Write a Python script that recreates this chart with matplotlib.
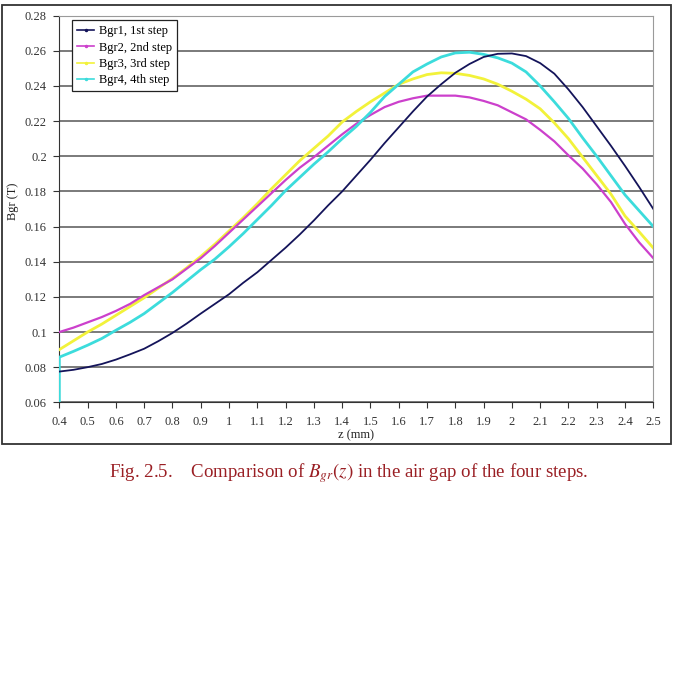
import matplotlib.pyplot as plt
from matplotlib.lines import Line2D
from matplotlib.patches import Rectangle

#### -------- データ -------- ####
z = [0.40, 0.45, 0.50, 0.55, 0.60, 0.65, 0.70, 0.75, 0.80, 0.85, 0.90,
     0.95, 1.00, 1.05, 1.10, 1.15, 1.20, 1.25, 1.30, 1.35, 1.40, 1.45,
     1.50, 1.55, 1.60, 1.65, 1.70, 1.75, 1.80, 1.85, 1.90, 1.95, 2.00,
     2.05, 2.10, 2.15, 2.20, 2.25, 2.30, 2.35, 2.40, 2.45, 2.50]

bgr1 = [0.0775, 0.0785, 0.0800, 0.0818, 0.0843, 0.0873, 0.0905, 0.0948,
        0.0995, 0.1048, 0.1105, 0.1160, 0.1215, 0.1280, 0.1340, 0.1410,
        0.1480, 0.1555, 0.1635, 0.1720, 0.1800, 0.1890, 0.1980, 0.2075,
        0.2165, 0.2255, 0.2340, 0.2410, 0.2475, 0.2525, 0.2565, 0.2583,
        0.2585, 0.2570, 0.2530, 0.2470, 0.2380, 0.2280, 0.2170, 0.2060,
        0.1945, 0.1825, 0.1700]

bgr2 = [0.1000, 0.1025, 0.1055, 0.1085, 0.1120, 0.1160, 0.1210, 0.1255,
        0.1300, 0.1360, 0.1420, 0.1490, 0.1565, 0.1640, 0.1715, 0.1790,
        0.1865, 0.1935, 0.1995, 0.2060, 0.2125, 0.2185, 0.2235, 0.2280,
        0.2310, 0.2330, 0.2345, 0.2345, 0.2345, 0.2335, 0.2315, 0.2290,
        0.2250, 0.2210, 0.2150, 0.2085, 0.2005, 0.1930, 0.1840, 0.1740,
        0.1615, 0.1510, 0.1420]

bgr3 = [0.0900, 0.0950, 0.1000, 0.1045, 0.1095, 0.1145, 0.1195, 0.1250,
        0.1305, 0.1365, 0.1430, 0.1500, 0.1575, 0.1650, 0.1730, 0.1815,
        0.1895, 0.1975, 0.2045, 0.2115, 0.2195, 0.2255, 0.2310, 0.2360,
        0.2410, 0.2440, 0.2465, 0.2475, 0.2472, 0.2460, 0.2440, 0.2410,
        0.2370, 0.2325, 0.2270, 0.2190, 0.2100, 0.1995, 0.1890, 0.1785,
        0.1660, 0.1570, 0.1478]

# 4th step は z=0.4 で 0 から立ち上がる
z4 = [0.40] + z
bgr4 = [0.0,
        0.0857, 0.0890, 0.0925, 0.0963, 0.1010, 0.1055, 0.1105, 0.1165,
        0.1225, 0.1290, 0.1355, 0.1415, 0.1485, 0.1560, 0.1640, 0.1720,
        0.1805, 0.1880, 0.1955, 0.2025, 0.2100, 0.2170, 0.2250, 0.2340,
        0.2410, 0.2480, 0.2525, 0.2565, 0.2588, 0.2592, 0.2580, 0.2560,
        0.2530, 0.2480, 0.2400, 0.2310, 0.2215, 0.2105, 0.2000, 0.1890,
        0.1780, 0.1690, 0.1600]

labels = ["Bgr1, 1st step", "Bgr2, 2nd step", "Bgr3, 3rd step", "Bgr4, 4th step"]
colors = ["#14145a", "#cc40cc", "#f2f23a", "#3cdcdc"]
widths = [1.3, 1.6, 2.0, 2.0]

x_ticks = [0.4, 0.5, 0.6, 0.7, 0.8, 0.9, 1, 1.1, 1.2, 1.3, 1.4, 1.5,
           1.6, 1.7, 1.8, 1.9, 2, 2.1, 2.2, 2.3, 2.4, 2.5]
x_ticklabels = ["0.4", "0.5", "0.6", "0.7", "0.8", "0.9", "1", "1.1", "1.2",
                "1.3", "1.4", "1.5", "1.6", "1.7", "1.8", "1.9", "2", "2.1",
                "2.2", "2.3", "2.4", "2.5"]
y_ticks = [0.06, 0.08, 0.10, 0.12, 0.14, 0.16, 0.18, 0.20, 0.22, 0.24, 0.26, 0.28]
y_ticklabels = ["0.06", "0.08", "0.1", "0.12", "0.14", "0.16", "0.18", "0.2",
                "0.22", "0.24", "0.26", "0.28"]

#### -------- グラフ設定 -------- ####
plt.rcParams["font.family"] = ["Liberation Serif", "DejaVu Serif"]
plt.rcParams["mathtext.fontset"] = "stix"
plt.rcParams["font.size"] = 9
plt.rcParams["xtick.direction"] = "out"
plt.rcParams["ytick.direction"] = "out"

fig = plt.figure(figsize=(6.75, 6.73), dpi=100)
ax = fig.add_axes([0.0879, 0.4022, 0.8800, 0.5745])

# 外枠
fig.patches.append(Rectangle((0.003, 0.340), 0.991, 0.652, transform=fig.transFigure,
                             fill=False, edgecolor="#333333", lw=1.3))

#### -------- データをプロット -------- ####
ax.plot(z, bgr1, color=colors[0], lw=widths[0], zorder=5)
ax.plot(z, bgr2, color=colors[1], lw=widths[1], zorder=4)
ax.plot(z, bgr3, color=colors[2], lw=widths[2], zorder=3)
ax.plot(z4, bgr4, color=colors[3], lw=widths[3], zorder=4)

ax.set_xlim(0.4, 2.5)
ax.set_ylim(0.06, 0.28)
ax.set_xticks(x_ticks)
ax.set_xticklabels(x_ticklabels)
ax.set_yticks(y_ticks)
ax.set_yticklabels(y_ticklabels)
ax.tick_params(axis="both", length=4, width=0.8, color="#333333",
               labelsize=9, labelcolor="#333333")
ax.tick_params(axis="x", pad=6)
ax.tick_params(axis="y", pad=5)

ax.grid(axis="y", color="#7a7a7a", lw=1.4)
ax.set_axisbelow(True)
ax.spines["left"].set_color("#333333")
ax.spines["bottom"].set_color("#333333")
ax.spines["top"].set_color("#9a9a9a")
ax.spines["right"].set_color("#9a9a9a")

ax.set_xlabel("z (mm)", fontsize=9, labelpad=1, color="#222222")
ax.set_ylabel("Bgr (T)", fontsize=9, color="#222222")
ax.yaxis.set_label_coords(-0.068, 0.52)

handles = [Line2D([], [], color=c, lw=1.2, marker=".", markersize=3)
           for c in colors]
leg = ax.legend(handles, labels, loc="upper left", bbox_to_anchor=(0.022, 0.988),
                borderaxespad=0, fancybox=False, framealpha=1, edgecolor="#222222",
                fontsize=9, handlelength=1.3, labelspacing=0.35, borderpad=0.4,
                handletextpad=0.4)
leg.get_frame().set_linewidth(0.9)

#### -------- キャプション -------- ####
fig.text(0.161, 0.297,
         "Fig. 2.5.    Comparison of $B_{gr}(z)$ in the air gap of the four steps.",
         fontsize=13.6, color="#9a1f24", va="center", ha="left")

fig.savefig("out.png", dpi=100)
